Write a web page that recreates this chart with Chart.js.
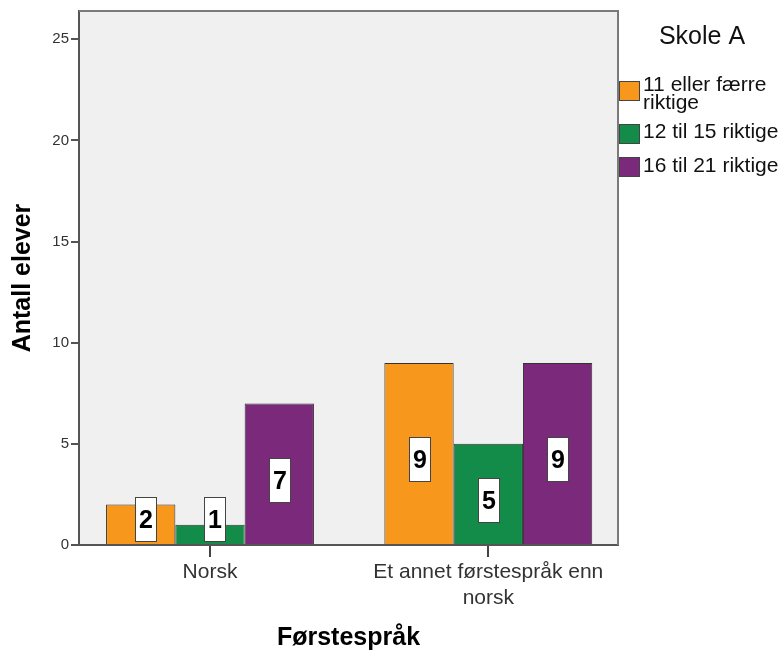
<!DOCTYPE html>
<html>
<head>
<meta charset="utf-8">
<script src="https://cdn.jsdelivr.net/npm/chart.js@4/dist/chart.umd.min.js"></script>
<style>
  html, body { margin: 0; padding: 0; background: #ffffff; }
  canvas { display: block; }
</style>
</head>
<body>
<canvas id="chart" width="782" height="654"></canvas>
<script>
// Categories (multi-line labels) and counts per score band
const categories = [['Norsk'], ['Et annet førstespråk enn', 'norsk']];
const seriesNames = [['11 eller færre', 'riktige'], ['12 til 15 riktige'], ['16 til 21 riktige']];
const fewCorrect = [2, 9];
const midCorrect = [1, 5];
const manyCorrect = [7, 9];
const yTicks = [0, 5, 10, 15, 20, 25];
const legendTitle = 'Skole A';

const FONT = "'Liberation Sans', Arial, Helvetica, sans-serif";
const barColors = ['#F7981D', '#128C48', '#7B2A7B'];

Chart.defaults.font.family = FONT;

// Plot background and frame
const plotFrame = {
  id: 'plotFrame',
  beforeDraw(chart) {
    const { ctx, chartArea: a } = chart;
    ctx.save();
    ctx.fillStyle = '#F0F0F0';
    ctx.fillRect(a.left, a.top, a.right - a.left, a.bottom - a.top);
    ctx.restore();
  },
  afterDraw(chart) {
    const { ctx, chartArea: a } = chart;
    ctx.save();
    ctx.strokeStyle = '#7a7a7a';
    ctx.lineWidth = 2;
    ctx.beginPath();
    ctx.moveTo(a.left, a.top);
    ctx.lineTo(a.right, a.top);
    ctx.lineTo(a.right, a.bottom);
    ctx.stroke();
    ctx.restore();
  }
};

// Boxed value labels inside each bar; short bars get the box resting near the base
const valueBoxes = {
  id: 'valueBoxes',
  afterDatasetsDraw(chart) {
    const ctx = chart.ctx;
    const w = 21, h = 44;
    chart.data.datasets.forEach((ds, k) => {
      const meta = chart.getDatasetMeta(k);
      meta.data.forEach((bar, i) => {
        const value = ds.data[i].y;
        const cy = (bar.y + bar.base) / 2 + 6;
        let top = cy - h / 2;
        let cx = bar.x;
        if (top + h > bar.base - 3) {
          top = bar.base - 3 - h;
          cx += 5;
        }
        const left = Math.round(cx - w / 2) + 0.5;
        top = Math.round(top) + 0.5;
        ctx.save();
        ctx.fillStyle = '#ffffff';
        ctx.fillRect(left, top, w, h);
        ctx.strokeStyle = '#444444';
        ctx.lineWidth = 1;
        ctx.strokeRect(left, top, w, h);
        ctx.fillStyle = '#000000';
        ctx.font = 'bold 25px ' + FONT;
        ctx.textAlign = 'center';
        ctx.textBaseline = 'alphabetic';
        ctx.fillText(String(value), left + w / 2, top + h / 2 + 8);
        ctx.restore();
      });
    });
  }
};

// Legend on the right side of the plot
const sideLegend = {
  id: 'sideLegend',
  afterDraw(chart) {
    const { ctx, chartArea: a } = chart;
    const x0 = a.right + 1;
    ctx.save();
    ctx.fillStyle = '#111111';
    ctx.font = '25px ' + FONT;
    ctx.textAlign = 'center';
    ctx.textBaseline = 'alphabetic';
    ctx.fillText(legendTitle, a.right + 84, a.top + 33);

    const swatchTops = [70, 113, 146];
    const firstBaselines = [80, 127, 161];
    ctx.font = '21px ' + FONT;
    ctx.textAlign = 'left';
    seriesNames.forEach((lines, k) => {
      const sy = a.top + swatchTops[k];
      ctx.fillStyle = barColors[k];
      ctx.fillRect(x0 + 0.5, sy + 0.5, 20, 19);
      ctx.strokeStyle = '#444444';
      ctx.lineWidth = 1;
      ctx.strokeRect(x0 + 0.5, sy + 0.5, 20, 19);
      ctx.fillStyle = '#111111';
      lines.forEach((line, j) => {
        ctx.fillText(line, x0 + 24, a.top + firstBaselines[k] + j * 18);
      });
    });
    ctx.restore();
  }
};

const datasets = [fewCorrect, midCorrect, manyCorrect].map((vals, k) => ({
  label: seriesNames[k].join(' '),
  data: vals.map((v, i) => ({ x: i, y: v })),
  backgroundColor: barColors[k],
  borderColor: '#333333',
  borderWidth: 1,
  categoryPercentage: 0.747,
  barPercentage: 1
}));

new Chart(document.getElementById('chart'), {
  type: 'bar',
  data: { datasets },
  options: {
    responsive: false,
    animation: false,
    events: [],
    layout: { padding: { top: 10, right: 164, bottom: 0, left: 0 } },
    plugins: {
      legend: { display: false },
      tooltip: { enabled: false }
    },
    scales: {
      x: {
        type: 'linear',
        offset: false,
        min: -0.4707,
        max: 1.466,
        afterBuildTicks: s => { s.ticks = categories.map((_, i) => ({ value: i })); },
        afterFit: s => { s.height = 109; },
        grid: { drawOnChartArea: false, offset: false, drawTicks: true, tickLength: 12, color: '#444444', lineWidth: 2 },
        border: { display: true, color: '#555555', width: 2 },
        ticks: {
          autoSkip: false,
          maxRotation: 0,
          padding: 3,
          color: '#333333',
          font: { size: 21 },
          callback: (v, i) => categories[i]
        },
        title: {
          display: true,
          text: 'Førstespråk',
          color: '#000000',
          font: { size: 25, weight: 'bold' },
          padding: { top: 0, bottom: 1 }
        }
      },
      y: {
        min: 0,
        max: 26.4,
        afterBuildTicks: s => { s.ticks = yTicks.map(v => ({ value: v })); },
        afterFit: s => { s.width = 79; },
        grid: { drawOnChartArea: false, drawTicks: true, tickLength: 8, color: '#555555', lineWidth: 2 },
        border: { display: true, color: '#555555', width: 2 },
        ticks: { color: '#333333', padding: 2, font: { size: 15 } },
        title: {
          display: true,
          text: 'Antall elever',
          color: '#000000',
          font: { size: 25, weight: 'bold' },
          padding: { top: 8, bottom: 0 }
        }
      }
    }
  },
  plugins: [plotFrame, valueBoxes, sideLegend]
});
</script>
</body>
</html>
